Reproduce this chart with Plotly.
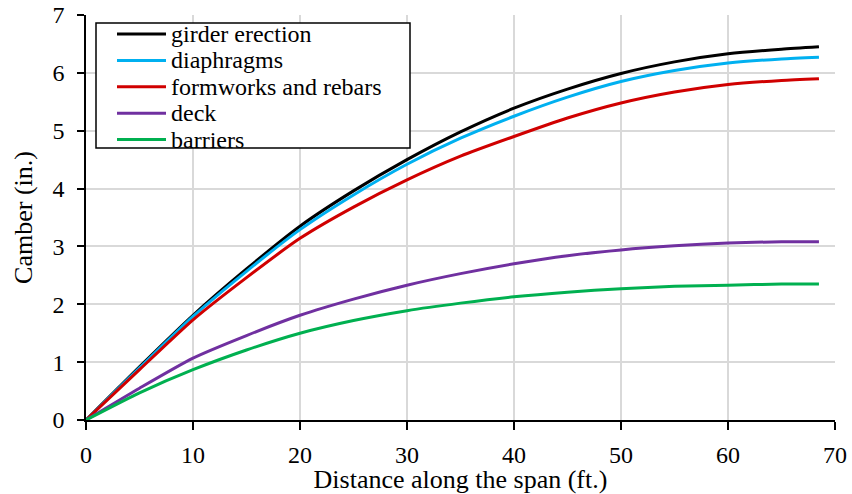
import plotly.graph_objects as go

# Distance along the span (ft.)
distance = [0, 5, 10, 15, 20, 25, 30, 35, 40, 45, 50, 55, 60, 65, 68.5]

# Camber (in.) per construction stage
girder_erection = [0.0, 0.92, 1.81, 2.61, 3.35, 3.96, 4.50, 4.98, 5.39, 5.72, 5.99, 6.19, 6.33, 6.41, 6.45]
diaphragms = [0.0, 0.90, 1.79, 2.57, 3.29, 3.89, 4.42, 4.87, 5.25, 5.58, 5.85, 6.04, 6.17, 6.24, 6.27]
formworks_rebars = [0.0, 0.87, 1.73, 2.46, 3.14, 3.68, 4.15, 4.56, 4.90, 5.22, 5.48, 5.67, 5.80, 5.87, 5.90]
deck = [0.0, 0.55, 1.07, 1.46, 1.81, 2.09, 2.33, 2.53, 2.70, 2.84, 2.94, 3.01, 3.06, 3.08, 3.08]
barriers = [0.0, 0.47, 0.87, 1.21, 1.50, 1.72, 1.89, 2.02, 2.13, 2.21, 2.27, 2.31, 2.33, 2.35, 2.35]

series_names = ["girder erection", "diaphragms", "formworks and rebars", "deck", "barriers"]
series_values = [girder_erection, diaphragms, formworks_rebars, deck, barriers]
series_colors = ["#000000", "#00B0F0", "#D00000", "#7030A0", "#00B050"]

x_ticks = [0, 10, 20, 30, 40, 50, 60, 70]
y_ticks = [0, 1, 2, 3, 4, 5, 6, 7]

FONT = "Liberation Serif"
W, H = 852, 494
ML, MR, MT, MB = 86, 17, 15, 74
PW, PH = W - ML - MR, H - MT - MB


def px_to_paper_x(px):
    return (px - ML) / PW


def px_to_paper_y(py):
    return (H - MB - py) / PH


fig = go.Figure()
for name, vals, color in zip(series_names, series_values, series_colors):
    fig.add_trace(go.Scatter(
        x=distance, y=vals, name=name, mode="lines", showlegend=False,
        line=dict(color=color, width=3, shape="spline", smoothing=0.6),
    ))

# Excel-style legend box (layout decoration, in paper coordinates)
shapes = [dict(
    type="rect", xref="paper", yref="paper",
    x0=px_to_paper_x(96), x1=px_to_paper_x(410),
    y0=px_to_paper_y(148), y1=px_to_paper_y(23),
    line=dict(color="black", width=1.5), fillcolor="white", layer="above",
)]
annotations = []
row0, row_gap = 34, 26.4
for i, (name, color) in enumerate(zip(series_names, series_colors)):
    yy = px_to_paper_y(row0 + i * row_gap)
    shapes.append(dict(
        type="line", xref="paper", yref="paper",
        x0=px_to_paper_x(117), x1=px_to_paper_x(166), y0=yy, y1=yy,
        line=dict(color=color, width=3), layer="above",
    ))
    annotations.append(dict(
        text=name, xref="paper", yref="paper", x=px_to_paper_x(170), y=yy,
        xanchor="left", yanchor="middle", showarrow=False, borderpad=0,
        font=dict(family=FONT, size=24, color="black"),
    ))

fig.update_layout(
    width=W, height=H,
    margin=dict(l=ML, r=MR, t=MT, b=MB, autoexpand=False),
    paper_bgcolor="white", plot_bgcolor="white",
    font=dict(family=FONT, size=24, color="black"),
    showlegend=False,
    shapes=shapes,
    annotations=annotations,
    xaxis=dict(
        range=[0, 70], tickvals=x_ticks, ticktext=[str(v) for v in x_ticks],
        tickfont=dict(family=FONT, size=24, color="black"),
        showgrid=True, gridcolor="#d9d9d9", gridwidth=1.5,
        showline=True, linecolor="black", linewidth=1.5,
        ticks="outside", ticklen=8, tickwidth=1.5, tickcolor="black",
        ticklabelstandoff=4, automargin=False,
        zeroline=False,
        title=dict(text="Distance along the span (ft.)",
                   font=dict(family=FONT, size=26, color="black"), standoff=0),
    ),
    yaxis=dict(
        range=[0, 7], tickvals=y_ticks, ticktext=[str(v) for v in y_ticks],
        tickfont=dict(family=FONT, size=24, color="black"),
        showgrid=True, gridcolor="#d9d9d9", gridwidth=1.5,
        showline=True, linecolor="black", linewidth=1.5,
        ticks="outside", ticklen=7, tickwidth=1.5, tickcolor="black",
        ticklabelstandoff=8, automargin=False,
        zeroline=False,
        title=dict(text="Camber (in.)",
                   font=dict(family=FONT, size=26, color="black"), standoff=12),
    ),
    xaxis2=dict(
        range=[0, 70], tickvals=x_ticks, overlaying="x", anchor="y", side="bottom",
        ticks="inside", ticklen=8, tickwidth=1.5, tickcolor="black",
        showticklabels=False, showgrid=False, showline=False, zeroline=False,
        automargin=False,
    ),
    yaxis2=dict(
        range=[0, 7], tickvals=y_ticks, overlaying="y", anchor="x", side="left",
        ticks="inside", ticklen=4, tickwidth=1.5, tickcolor="black",
        showticklabels=False, showgrid=False, showline=False, zeroline=False,
        automargin=False,
    ),
)

fig.write_html(
    "out.html",
    config={"displayModeBar": False},
    post_script="document.body.style.margin='0';document.body.style.overflow='hidden';",
)
